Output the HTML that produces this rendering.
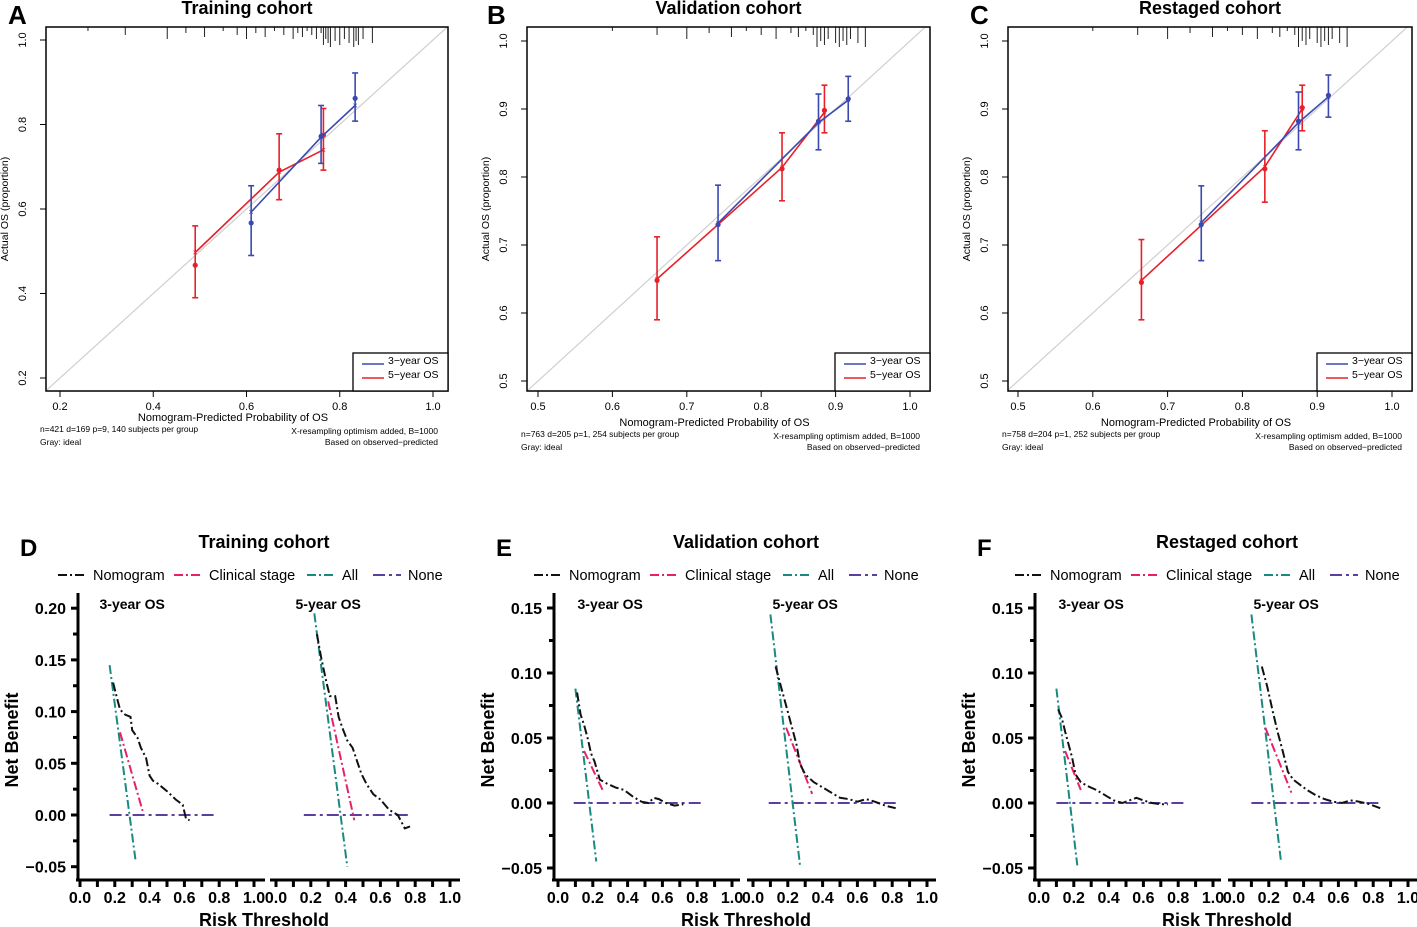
<!DOCTYPE html>
<html><head><meta charset="utf-8"><style>
html,body{margin:0;padding:0;background:#fff;}
svg{display:block;font-family:"Liberation Sans",Arial,sans-serif;}
</style></head><body>
<svg id="fig" width="1417" height="927" viewBox="0 0 1417 927" xmlns="http://www.w3.org/2000/svg"></svg>
<script>
// ---------- Calibration data ----------
const calA_blue_x=[0.61,0.76,0.833], calA_blue_y=[0.567,0.772,0.862], calA_blue_c=[0.593,0.77,0.845], calA_blue_lo=[0.49,0.708,0.808], calA_blue_hi=[0.655,0.845,0.922];
const calA_red_x=[0.49,0.67,0.765], calA_red_y=[0.467,0.692,0.775], calA_red_c=[0.497,0.687,0.74], calA_red_lo=[0.39,0.622,0.692], calA_red_hi=[0.56,0.778,0.838];
const calB_blue_x=[0.742,0.877,0.917], calB_blue_y=[0.73,0.882,0.915], calB_blue_c=[0.732,0.88,0.913], calB_blue_lo=[0.677,0.84,0.882], calB_blue_hi=[0.788,0.922,0.948];
const calB_red_x=[0.66,0.828,0.885], calB_red_y=[0.648,0.812,0.898], calB_red_c=[0.65,0.814,0.895], calB_red_lo=[0.59,0.765,0.865], calB_red_hi=[0.712,0.865,0.935];
const calC_blue_x=[0.745,0.875,0.915], calC_blue_y=[0.73,0.882,0.92], calC_blue_c=[0.733,0.88,0.918], calC_blue_lo=[0.677,0.84,0.888], calC_blue_hi=[0.787,0.925,0.95];
const calC_red_x=[0.665,0.83,0.88], calC_red_y=[0.645,0.812,0.902], calC_red_c=[0.648,0.815,0.9], calC_red_lo=[0.59,0.763,0.868], calC_red_hi=[0.708,0.868,0.935];
const rugA=[0.26,0.34,0.43,0.47,0.51,0.55,0.58,0.6,0.62,0.64,0.66,0.68,0.7,0.71,0.72,0.73,0.74,0.75,0.76,0.765,0.77,0.775,0.78,0.79,0.8,0.81,0.82,0.83,0.835,0.84,0.85,0.87];
const rugB=[0.6,0.66,0.7,0.73,0.76,0.78,0.8,0.82,0.84,0.85,0.86,0.87,0.875,0.88,0.885,0.89,0.9,0.905,0.91,0.915,0.92,0.93,0.94];
const rugC=[0.6,0.66,0.7,0.73,0.76,0.78,0.8,0.82,0.84,0.85,0.86,0.87,0.875,0.88,0.885,0.89,0.9,0.905,0.91,0.915,0.92,0.93,0.94];
const ticksA_x=[0.2,0.4,0.6,0.8,1.0], ticksA_y=[0.2,0.4,0.6,0.8,1.0];
const ticksBC_x=[0.5,0.6,0.7,0.8,0.9,1.0], ticksBC_y=[0.5,0.6,0.7,0.8,0.9,1.0];
// ---------- DCA data ----------
const dcaD3_nom_x=[0.19,0.21,0.23,0.26,0.29,0.3,0.33,0.35,0.38,0.4,0.42,0.45,0.5,0.55,0.59,0.61,0.63];
const dcaD3_nom_y=[0.128,0.115,0.102,0.097,0.095,0.082,0.075,0.065,0.055,0.038,0.033,0.03,0.023,0.015,0.01,-0.004,-0.005];
const dcaD3_clin_x=[0.23,0.36], dcaD3_clin_y=[0.08,0.004];
const dcaD3_all_x=[0.17,0.32], dcaD3_all_y=[0.145,-0.045];
const dcaD3_none_x=[0.17,0.78], dcaD3_none_y=[0,0];
const dcaD5_nom_x=[0.235,0.26,0.29,0.31,0.34,0.36,0.38,0.41,0.44,0.47,0.49,0.52,0.56,0.6,0.65,0.7,0.74,0.77];
const dcaD5_nom_y=[0.175,0.152,0.128,0.115,0.115,0.095,0.085,0.072,0.065,0.05,0.04,0.03,0.02,0.015,0.005,0.0,-0.013,-0.011];
const dcaD5_clin_x=[0.3,0.45], dcaD5_clin_y=[0.11,-0.005];
const dcaD5_all_x=[0.22,0.41], dcaD5_all_y=[0.195,-0.05];
const dcaD5_none_x=[0.16,0.77], dcaD5_none_y=[0,0];
const dcaE3_nom_x=[0.11,0.13,0.15,0.17,0.19,0.21,0.24,0.28,0.33,0.38,0.43,0.48,0.52,0.55,0.58,0.62,0.67,0.72];
const dcaE3_nom_y=[0.085,0.068,0.06,0.05,0.038,0.032,0.018,0.015,0.012,0.01,0.005,0.001,0.0,0.004,0.003,0.0,-0.002,-0.001];
const dcaE3_clin_x=[0.15,0.26], dcaE3_clin_y=[0.04,0.009];
const dcaE3_all_x=[0.1,0.22], dcaE3_all_y=[0.088,-0.045];
const dcaE3_none_x=[0.09,0.84], dcaE3_none_y=[0,0];
const dcaE5_nom_x=[0.13,0.16,0.19,0.22,0.25,0.27,0.3,0.35,0.4,0.45,0.5,0.55,0.6,0.65,0.7,0.76,0.82];
const dcaE5_nom_y=[0.105,0.09,0.075,0.06,0.045,0.03,0.022,0.016,0.012,0.008,0.004,0.003,0.001,0.003,0.001,-0.002,-0.004];
const dcaE5_clin_x=[0.19,0.34], dcaE5_clin_y=[0.058,0.007];
const dcaE5_all_x=[0.1,0.27], dcaE5_all_y=[0.145,-0.048];
const dcaE5_none_x=[0.09,0.84], dcaE5_none_y=[0,0];
const dcaF3_nom_x=[0.11,0.13,0.15,0.17,0.19,0.21,0.24,0.28,0.33,0.38,0.43,0.48,0.52,0.56,0.6,0.65,0.7,0.74];
const dcaF3_nom_y=[0.072,0.066,0.055,0.045,0.035,0.022,0.016,0.013,0.01,0.006,0.002,0.0,0.002,0.004,0.002,0.0,-0.001,-0.001];
const dcaF3_clin_x=[0.15,0.24], dcaF3_clin_y=[0.04,0.01];
const dcaF3_all_x=[0.1,0.22], dcaF3_all_y=[0.088,-0.048];
const dcaF3_none_x=[0.1,0.84], dcaF3_none_y=[0,0];
const dcaF5_nom_x=[0.16,0.19,0.22,0.25,0.28,0.31,0.34,0.38,0.42,0.47,0.52,0.57,0.62,0.67,0.72,0.78,0.84];
const dcaF5_nom_y=[0.105,0.09,0.072,0.055,0.04,0.024,0.018,0.014,0.01,0.006,0.003,0.001,0.0,0.002,0.001,-0.001,-0.004];
const dcaF5_clin_x=[0.18,0.33], dcaF5_clin_y=[0.058,0.008];
const dcaF5_all_x=[0.1,0.27], dcaF5_all_y=[0.145,-0.045];
const dcaF5_none_x=[0.1,0.84], dcaF5_none_y=[0,0];
const dcaTicks=[0,0.2,0.4,0.6,0.8,1.0];
const dcaY_D=[0.2,0.15,0.1,0.05,0,-0.05], dcaY_EF=[0.15,0.1,0.05,0,-0.05];

const svg=document.getElementById('fig');
const NS='http://www.w3.org/2000/svg';
function mk(tag,attrs,parent,name,txt){
  const e=document.createElementNS(NS,tag);
  for(const k in attrs)e.setAttribute(k,attrs[k]);
  
  
  if(txt!==undefined)e.textContent=txt;
  (parent||svg).appendChild(e);return e;
}
function poly(xs,ys,sx,sy){return xs.map((v,i)=>sx(v).toFixed(1)+','+sy(ys[i]).toFixed(1)).join(' ');}

// ---------- calibration panel ----------
function calib(c){
  const g=mk('g',{},svg,c.name);
  const sx=v=>c.x0+(v-c.xa)/(c.xb-c.xa)*(c.x1-c.x0);
  const sy=v=>c.y0+(v-c.ya)/(c.yb-c.ya)*(c.y1-c.y0);
  mk('text',{x:c.lx,y:24,'font-size':26,'font-weight':'bold'},g,'panel-letter',c.letter);
  mk('text',{x:(c.L+c.R)/2,y:14,'font-size':18,'font-weight':'bold','text-anchor':'middle'},g,'panel-title',c.title);
  const cid='clip'+c.letter;
  const cp=mk('clipPath',{id:cid},g,'plot-clip');
  mk('rect',{x:c.L,y:c.T,width:c.R-c.L,height:c.B-c.T},cp,'clip-rect');
  const xlo=c.xa-(sx(c.xa)-c.L)/(c.x1-c.x0)*(c.xb-c.xa), xhi=c.xb+(c.R-sx(c.xb))/(c.x1-c.x0)*(c.xb-c.xa);
  mk('line',{x1:sx(xlo),y1:sy(xlo),x2:sx(xhi),y2:sy(xhi),stroke:'#cfcfcf','stroke-width':1.2,'clip-path':'url(#'+cid+')'},g,'ideal-line');
  c.rug.forEach((v,i)=>{const h=4+((i*7)%5)*2+(v>c.rugPeak?8:0);
    mk('line',{x1:sx(v),y1:c.T,x2:sx(v),y2:c.T+h,stroke:'#222','stroke-width':1},g,'rug-tick');});
  [[c.red,'#e8202a','series-5-year'],[c.blue,'#3a49b0','series-3-year']].forEach(([s,col,nm])=>{
    const sg=mk('g',{},g,nm);
    mk('polyline',{points:poly(s.x,s.c,sx,sy),fill:'none',stroke:col,'stroke-width':1.6},sg,'calibration-line');
    s.x.forEach((v,i)=>{
      mk('line',{x1:sx(v),y1:sy(s.lo[i]),x2:sx(v),y2:sy(s.hi[i]),stroke:col,'stroke-width':1.6},sg,'error-bar');
      mk('line',{x1:sx(v)-3,y1:sy(s.lo[i]),x2:sx(v)+3,y2:sy(s.lo[i]),stroke:col,'stroke-width':1.6},sg,'error-cap');
      mk('line',{x1:sx(v)-3,y1:sy(s.hi[i]),x2:sx(v)+3,y2:sy(s.hi[i]),stroke:col,'stroke-width':1.6},sg,'error-cap');
      mk('circle',{cx:sx(v),cy:sy(s.y[i]),r:2.6,fill:col},sg,'observed-point');
      mk('text',{x:sx(v),y:sy(s.c[i])+3,'font-size':9,fill:col,'text-anchor':'middle'},sg,'corrected-point','×');
    });
  });
  mk('rect',{x:c.L,y:c.T,width:c.R-c.L,height:c.B-c.T,fill:'none',stroke:'#000','stroke-width':1.5},g,'plot-frame');
  c.xt.forEach(v=>{mk('line',{x1:sx(v),y1:c.B,x2:sx(v),y2:c.B+6,stroke:'#000'},g,'x-tick');
    mk('text',{x:sx(v),y:c.B+19,'font-size':11,'text-anchor':'middle'},g,'x-tick-label',v.toFixed(1));});
  c.yt.forEach(v=>{mk('line',{x1:c.L,y1:sy(v),x2:c.L-6,y2:sy(v),stroke:'#000'},g,'y-tick');
    mk('text',{x:0,y:0,'font-size':11,'text-anchor':'middle',transform:`translate(${c.L-20},${sy(v)}) rotate(-90)`},g,'y-tick-label',v.toFixed(1));});
  mk('text',{x:0,y:0,'font-size':10.5,'text-anchor':'middle',transform:`translate(${c.L-38},${(c.T+c.B)/2}) rotate(-90)`},g,'y-axis-title','Actual  OS (proportion)');
  mk('text',{x:(c.L+c.R)/2-14,y:c.xlabY,'font-size':11,'text-anchor':'middle'},g,'x-axis-title','Nomogram-Predicted Probability of OS');
  mk('text',{x:c.L-6,y:c.xlabY+11,'font-size':8.5},g,'subjects-note',c.note);
  mk('text',{x:c.L-6,y:c.xlabY+24,'font-size':8.5},g,'gray-note','Gray: ideal');
  mk('text',{x:c.R-10,y:c.xlabY+13,'font-size':8.5,'text-anchor':'end'},g,'resampling-note','X-resampling optimism added, B=1000');
  mk('text',{x:c.R-10,y:c.xlabY+24,'font-size':8.5,'text-anchor':'end'},g,'based-note','Based on observed−predicted');
  const lg=mk('g',{},g,'legend');
  mk('rect',{x:c.R-95,y:c.B-38,width:95,height:38,fill:'#fff',stroke:'#000','stroke-width':1.3},lg,'legend-box');
  mk('line',{x1:c.R-86,y1:c.B-27,x2:c.R-64,y2:c.B-27,stroke:'#3a49b0','stroke-width':1.6},lg,'legend-3-year-swatch');
  mk('text',{x:c.R-60,y:c.B-27,'font-size':10.5},lg,'legend-3-year-label','3−year OS');
  mk('line',{x1:c.R-86,y1:c.B-13,x2:c.R-64,y2:c.B-13,stroke:'#e8202a','stroke-width':1.6},lg,'legend-5-year-swatch');
  mk('text',{x:c.R-60,y:c.B-13,'font-size':10.5},lg,'legend-5-year-label','5−year OS');
}
calib({name:'panel-a',letter:'A',lx:8,title:'Training cohort',L:46,R:448,T:27,B:391,x0:60,x1:433,xa:0.2,xb:1.0,y0:378,y1:40,ya:0.2,yb:1.0,xt:ticksA_x,yt:ticksA_y,rug:rugA,rugPeak:0.76,xlabY:421,note:'n=421 d=169 p=9, 140 subjects per group',
  blue:{x:calA_blue_x,y:calA_blue_y,c:calA_blue_c,lo:calA_blue_lo,hi:calA_blue_hi},red:{x:calA_red_x,y:calA_red_y,c:calA_red_c,lo:calA_red_lo,hi:calA_red_hi}});
calib({name:'panel-b',letter:'B',lx:487,title:'Validation cohort',L:527,R:930,T:27,B:391,x0:538,x1:910,xa:0.5,xb:1.0,y0:381,y1:41,ya:0.5,yb:1.0,xt:ticksBC_x,yt:ticksBC_y,rug:rugB,rugPeak:0.87,xlabY:426,note:'n=763 d=205 p=1, 254 subjects per group',
  blue:{x:calB_blue_x,y:calB_blue_y,c:calB_blue_c,lo:calB_blue_lo,hi:calB_blue_hi},red:{x:calB_red_x,y:calB_red_y,c:calB_red_c,lo:calB_red_lo,hi:calB_red_hi}});
calib({name:'panel-c',letter:'C',lx:970,title:'Restaged cohort',L:1008,R:1412,T:27,B:391,x0:1018,x1:1392,xa:0.5,xb:1.0,y0:381,y1:41,ya:0.5,yb:1.0,xt:ticksBC_x,yt:ticksBC_y,rug:rugC,rugPeak:0.87,xlabY:426,note:'n=758 d=204 p=1, 252 subjects per group',
  blue:{x:calC_blue_x,y:calC_blue_y,c:calC_blue_c,lo:calC_blue_lo,hi:calC_blue_hi},red:{x:calC_red_x,y:calC_red_y,c:calC_red_c,lo:calC_red_lo,hi:calC_red_hi}});

// ---------- DCA panel ----------
const COL={nom:'#111',clin:'#e8206a',all:'#1a8a80',none:'#5a3fa0'};
const DASH={nom:'9,3,2,3',clin:'9,3,2,3',all:'9,3,2,3',none:'12,4,3,4'};
function dca(c){
  const g=mk('g',{},svg,c.name);
  const sy=v=>c.y0-(v)/0.05*c.pp;
  mk('text',{x:c.ax-58,y:556,'font-size':24,'font-weight':'bold'},g,'panel-letter',c.letter);
  mk('text',{x:c.tc,y:548,'font-size':18,'font-weight':'bold','text-anchor':'middle'},g,'panel-title',c.title);
  const lg=mk('g',{},g,'legend');
  const items=[['nom','Nomogram',c.ax-20],['clin','Clinical stage',c.ax+96],['all','All',c.ax+229],['none','None',c.ax+295]];
  items.forEach(([k,t,x])=>{const eg=mk('g',{},lg,'legend-entry-'+k);
    mk('line',{x1:x,y1:575,x2:x+28,y2:575,stroke:COL[k],'stroke-width':2,'stroke-dasharray':DASH[k]},eg,'legend-swatch');
    mk('text',{x:x+35,y:580,'font-size':14.5},eg,'legend-label',t);});
  mk('line',{x1:c.ax,y1:593,x2:c.ax,y2:881,stroke:'#000','stroke-width':3},g,'y-axis-line');
  const step=c.yt[0]-c.yt[1];
  c.yt.forEach(v=>{mk('line',{x1:c.ax,y1:sy(v),x2:c.ax-7,y2:sy(v),stroke:'#000','stroke-width':3},g,'y-tick');
    mk('text',{x:c.ax-12,y:sy(v)+6,'font-size':16,'font-weight':'bold','text-anchor':'end'},g,'y-tick-label',(v<0?'−':'')+Math.abs(v).toFixed(2));
    if(v>c.yt[c.yt.length-1])mk('line',{x1:c.ax,y1:sy(v-step/2),x2:c.ax-5,y2:sy(v-step/2),stroke:'#000','stroke-width':3},g,'y-minor-tick');});
  mk('text',{x:0,y:0,'font-size':18,'font-weight':'bold','text-anchor':'middle',transform:`translate(${c.ax-60},${740}) rotate(-90)`},g,'y-axis-title','Net Benefit');
  c.subs.forEach((s,si)=>{
    const sx=v=>s.x0+v*174;
    const sg=mk('g',{},g,si?'subplot-5-year':'subplot-3-year');
    mk('line',{x1:s.a,y1:880,x2:s.b,y2:880,stroke:'#000','stroke-width':3},sg,'x-axis-line');
    for(let i=0;i<=10;i++){const v=i/10;mk('line',{x1:sx(v),y1:880,x2:sx(v),y2:887,stroke:'#000','stroke-width':3},sg,'x-tick');}
    dcaTicks.forEach(v=>mk('text',{x:sx(v),y:903,'font-size':16,'font-weight':'bold','text-anchor':'middle'},sg,'x-tick-label',v.toFixed(1)));
    mk('text',{x:sx(0.3),y:609,'font-size':14,'font-weight':'bold','text-anchor':'middle'},sg,'subplot-title',si?'5-year OS':'3-year OS');
    [['none',s.none],['all',s.all],['clin',s.clin],['nom',s.nom]].forEach(([k,d])=>{
      mk('polyline',{points:poly(d[0],d[1],sx,sy),fill:'none',stroke:COL[k],'stroke-width':2,'stroke-dasharray':DASH[k]},sg,'curve-'+k);});
  });
  mk('text',{x:c.tc,y:926,'font-size':18,'font-weight':'bold','text-anchor':'middle'},g,'x-axis-title','Risk Threshold');
}
dca({name:'panel-d',letter:'D',ax:78,tc:264,title:'Training cohort',y0:815,pp:51.7,yt:dcaY_D,
  subs:[{x0:80,a:76,b:265,nom:[dcaD3_nom_x,dcaD3_nom_y],clin:[dcaD3_clin_x,dcaD3_clin_y],all:[dcaD3_all_x,dcaD3_all_y],none:[dcaD3_none_x,dcaD3_none_y]},
        {x0:276,a:270,b:460,nom:[dcaD5_nom_x,dcaD5_nom_y],clin:[dcaD5_clin_x,dcaD5_clin_y],all:[dcaD5_all_x,dcaD5_all_y],none:[dcaD5_none_x,dcaD5_none_y]}]});
dca({name:'panel-e',letter:'E',ax:554,tc:746,title:'Validation cohort',y0:803,pp:65,yt:dcaY_EF,
  subs:[{x0:558,a:552,b:740,nom:[dcaE3_nom_x,dcaE3_nom_y],clin:[dcaE3_clin_x,dcaE3_clin_y],all:[dcaE3_all_x,dcaE3_all_y],none:[dcaE3_none_x,dcaE3_none_y]},
        {x0:753,a:747,b:936,nom:[dcaE5_nom_x,dcaE5_nom_y],clin:[dcaE5_clin_x,dcaE5_clin_y],all:[dcaE5_all_x,dcaE5_all_y],none:[dcaE5_none_x,dcaE5_none_y]}]});
dca({name:'panel-f',letter:'F',ax:1035,tc:1227,title:'Restaged cohort',y0:803,pp:65,yt:dcaY_EF,
  subs:[{x0:1039,a:1033,b:1221,nom:[dcaF3_nom_x,dcaF3_nom_y],clin:[dcaF3_clin_x,dcaF3_clin_y],all:[dcaF3_all_x,dcaF3_all_y],none:[dcaF3_none_x,dcaF3_none_y]},
        {x0:1234,a:1228,b:1417,nom:[dcaF5_nom_x,dcaF5_nom_y],clin:[dcaF5_clin_x,dcaF5_clin_y],all:[dcaF5_all_x,dcaF5_all_y],none:[dcaF5_none_x,dcaF5_none_y]}]});
</script>
</body></html>
